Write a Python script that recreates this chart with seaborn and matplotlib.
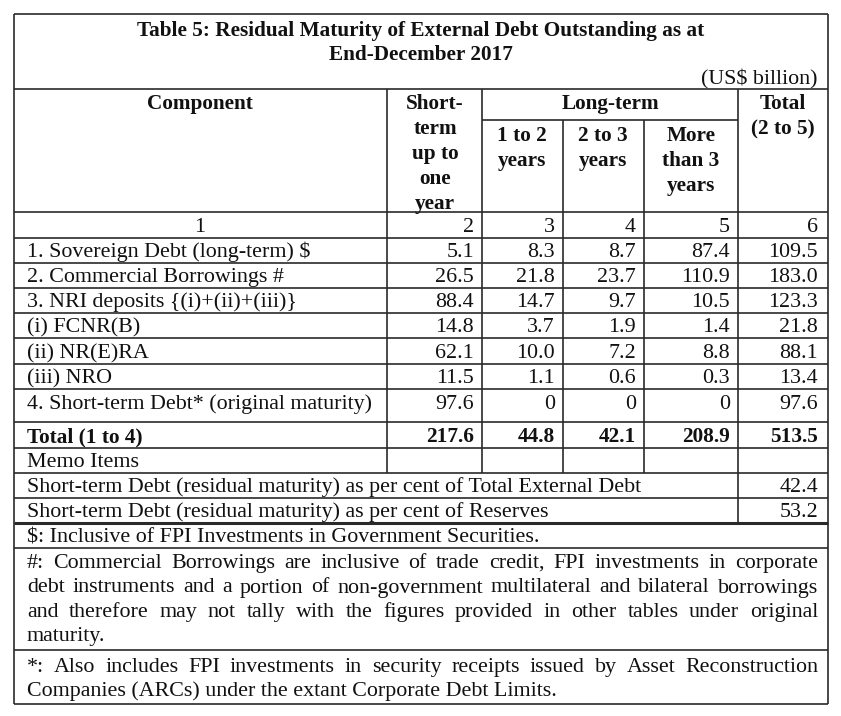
import matplotlib
matplotlib.use("Agg")
import matplotlib.pyplot as plt
import seaborn as sns

# Datos de la tabla
componentes = ["1. Sovereign Debt (long-term) $",
               "2. Commercial Borrowings #",
               "3. NRI deposits {(i)+(ii)+(iii)}",
               "(i) FCNR(B)",
               "(ii) NR(E)RA",
               "(iii) NRO",
               "4. Short-term Debt* (original maturity)"]
corto_plazo = ["5.1", "26.5", "88.4", "14.8", "62.1", "11.5", "97.6"]
uno_a_dos = ["8.3", "21.8", "14.7", "3.7", "10.0", "1.1", "0"]
dos_a_tres = ["8.7", "23.7", "9.7", "1.9", "7.2", "0.6", "0"]
mas_de_tres = ["87.4", "110.9", "10.5", "1.4", "8.8", "0.3", "0"]
total = ["109.5", "183.0", "123.3", "21.8", "88.1", "13.4", "97.6"]
fila_total = ["217.6", "44.8", "42.1", "208.9", "513.5"]
memo_textos = ["Short-term Debt (residual maturity) as per cent of Total External Debt",
               "Short-term Debt (residual maturity) as per cent of Reserves"]
memo_valores = ["42.4", "53.2"]
nota_dolar = "$: Inclusive of FPI Investments in Government Securities."
nota_numeral = ["#: Commercial Borrowings are inclusive of trade credit, FPI investments in corporate",
                "debt instruments and a portion of non-government multilateral and bilateral borrowings",
                "and therefore may not tally with the figures provided in other tables under original",
                "maturity."]
nota_asterisco = ["*: Also includes FPI investments in security receipts issued by Asset Reconstruction",
                  "Companies (ARCs) under the extant Corporate Debt Limits."]

sns.set_style("white")
plt.rcParams['font.family'] = ['Liberation Serif', 'DejaVu Serif']

fig = plt.figure(figsize=(8.41, 7.16), dpi=100)
ax = fig.add_axes([0, 0, 1, 1])
ax.set_xlim(0, 841)
ax.set_ylim(716, 0)
ax.axis('off')

fs = 15.8
fsb = 15.3
col = '#111111'
lc = '#2a2a2a'

def hline(y, x0=14, x1=828, lw=1.2):
    ax.plot([x0, x1], [y, y], color=lc, lw=lw, solid_capstyle='butt', zorder=3)

def vline(x, y0, y1, lw=1.2):
    ax.plot([x, x], [y0, y1], color=lc, lw=lw, solid_capstyle='butt', zorder=3)

# Bordes
L, R, T, B = 14, 828, 14, 704
vline(L, T, B)
vline(R, T, B)
hline(T)
hline(B)
lineas_y = [89, 212, 238, 263, 288, 313, 338, 364, 389, 422, 448, 473, 498, 548, 650]
for y in lineas_y:
    hline(y)
hline(523, lw=2.2)
hline(120, 482, 738)
for x in [387, 482, 738]:
    vline(x, 89, 473)
for x in [563, 644]:
    vline(x, 120, 473)
vline(738, 473, 523)

# Titulo
ax.text(421, 36, "Table 5: Residual Maturity of External Debt Outstanding as at",
        ha='center', va='baseline', fontsize=fsb, fontweight='bold', color=col)
ax.text(421, 60, "End-December 2017", ha='center', va='baseline',
        fontsize=fsb, fontweight='bold', color=col)
ax.text(818, 84, "(US$ billion)", ha='right', va='baseline', fontsize=fs, color=col)

# Encabezados
def bold(x, y, s):
    ax.text(x, y, s, ha='center', va='baseline', fontsize=fsb, fontweight='bold',
            color=col, clip_on=False)

bold(200, 109, "Component")
for i, s in enumerate(["Short-", "term", "up to", "one", "year"]):
    bold(435, 109 + 25 * i, s)
bold(610, 109, "Long-term")
for i, s in enumerate(["1 to 2", "years"]):
    bold(522, 141 + 25 * i, s)
for i, s in enumerate(["2 to 3", "years"]):
    bold(603, 141 + 25 * i, s)
for i, s in enumerate(["More", "than 3", "years"]):
    bold(691, 141 + 25 * i, s)
for i, s in enumerate(["Total", "(2 to 5)"]):
    bold(783, 109 + 25 * i, s)

# Fila de numeros de columna
derechas = [474, 555, 636, 730, 818]
ax.text(200, 232, "1", ha='center', va='baseline', fontsize=fs, color=col)
for j, x in enumerate(derechas):
    ax.text(x, 232, str(j + 2), ha='right', va='baseline', fontsize=fs, color=col)

# Filas de datos
base = [257, 282, 307, 332, 358, 383, 409]
columnas = [corto_plazo, uno_a_dos, dos_a_tres, mas_de_tres, total]
for i, nombre in enumerate(componentes):
    ax.text(27, base[i], nombre, ha='left', va='baseline', fontsize=fs, color=col)
    for j, x in enumerate(derechas):
        ax.text(x, base[i], columnas[j][i], ha='right', va='baseline', fontsize=fs, color=col)

ax.text(27, 442, "Total (1 to 4)", ha='left', va='baseline', fontsize=fsb,
        fontweight='bold', color=col)
for j, x in enumerate(derechas):
    ax.text(x, 442, fila_total[j], ha='right', va='baseline', fontsize=fsb,
            fontweight='bold', color=col)

ax.text(27, 467, "Memo Items", ha='left', va='baseline', fontsize=fs, color=col)
for i, (t, v) in enumerate(zip(memo_textos, memo_valores)):
    ax.text(27, 492 + 25 * i, t, ha='left', va='baseline', fontsize=fs, color=col)
    ax.text(818, 492 + 25 * i, v, ha='right', va='baseline', fontsize=fs, color=col)

ax.text(27, 542, nota_dolar, ha='left', va='baseline', fontsize=fs, color=col)

# Notas justificadas
renderer = fig.canvas.get_renderer()

def justificada(linea, y, x0=27, x1=818):
    palabras = linea.split(' ')
    objs = [ax.text(0, y, p, ha='left', va='baseline', fontsize=fs, color=col) for p in palabras]
    anchos = [o.get_window_extent(renderer).width for o in objs]
    hueco = (x1 - x0 - sum(anchos)) / (len(palabras) - 1)
    x = x0
    for o, w in zip(objs, anchos):
        o.set_x(x)
        x += w + hueco

for i, linea in enumerate(nota_numeral):
    y = 568 + 24.5 * i
    if i < len(nota_numeral) - 1:
        justificada(linea, y)
    else:
        ax.text(27, y, linea, ha='left', va='baseline', fontsize=fs, color=col)

justificada(nota_asterisco[0], 672)
ax.text(27, 696, nota_asterisco[1], ha='left', va='baseline', fontsize=fs, color=col)

fig.savefig("out.png", dpi=100, facecolor='white')
